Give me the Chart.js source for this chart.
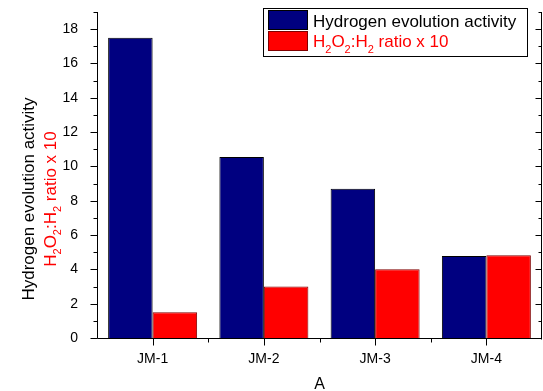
<!DOCTYPE html>
<html>
<head>
<meta charset="utf-8">
<script src="https://cdn.jsdelivr.net/npm/chart.js@4/dist/chart.umd.min.js"></script>
<style>
  html, body { margin: 0; padding: 0; background: #fff; }
  #wrap { width: 543px; height: 391px; }
</style>
</head>
<body>
<div id="wrap"><canvas id="c" width="543" height="391"></canvas></div>
<script>
// Samples and measured values
const categories = ['JM-1', 'JM-2', 'JM-3', 'JM-4'];
const hydrogenActivity = [17.5, 10.55, 8.7, 4.78];
const peroxideRatioX10 = [1.5, 3.0, 4.0, 4.82];

// Text pieces (sub: true marks a subscript)
const activityLabel = [{ t: 'Hydrogen evolution activity' }];
const ratioLabel = [
  { t: 'H' }, { t: '2', sub: true }, { t: 'O' }, { t: '2', sub: true },
  { t: ':H' }, { t: '2', sub: true }, { t: ' ratio x 10' }
];
const xTitle = 'A';

const FONT = '"Liberation Sans", Arial, sans-serif';

function segWidth(ctx, segs, size, subSize) {
  let w = 0;
  for (const s of segs) {
    ctx.font = (s.sub ? subSize : size) + 'px ' + FONT;
    w += ctx.measureText(s.t).width;
  }
  return w;
}
function drawSegs(ctx, segs, x, y, size, subSize, subShift, color) {
  ctx.fillStyle = color;
  ctx.textBaseline = 'alphabetic';
  ctx.textAlign = 'left';
  for (const s of segs) {
    ctx.font = (s.sub ? subSize : size) + 'px ' + FONT;
    ctx.fillText(s.t, x, s.sub ? y + subShift : y);
    x += ctx.measureText(s.t).width;
  }
}

const decorations = {
  id: 'decorations',
  afterDraw(chart) {
    const { ctx, chartArea: a, scales: { x, y } } = chart;
    ctx.save();
    ctx.strokeStyle = '#000';
    ctx.lineWidth = 1;

    // axis lines: left, bottom, right
    const L = a.left + 0.5, R = a.right - 0.5, B = a.bottom + 0.5, T = a.top;
    ctx.beginPath();
    ctx.moveTo(L, T); ctx.lineTo(L, B);
    ctx.moveTo(L, B); ctx.lineTo(R, B);
    ctx.moveTo(R, T); ctx.lineTo(R, B + 1);
    ctx.stroke();

    // y ticks (major every 2, minor every 1)
    ctx.beginPath();
    for (let v = y.min; v <= y.max; v += 1) {
      const py = Math.round(y.getPixelForValue(v)) + 0.5;
      const major = v % 2 === 0;
      ctx.moveTo(L - (major ? 7 : 4), py); ctx.lineTo(L, py);
      ctx.moveTo(R, py); ctx.lineTo(R - (major ? 6 : 3), py);
    }
    // x ticks: major at categories, minor between them
    for (let i = 0; i < categories.length; i++) {
      const px = Math.round(x.getPixelForValue(i)) + 0.5;
      ctx.moveTo(px, B); ctx.lineTo(px, B + 7);
      if (i < categories.length - 1) {
        const mx = Math.round((x.getPixelForValue(i) + x.getPixelForValue(i + 1)) / 2) + 0.5;
        ctx.moveTo(mx, B); ctx.lineTo(mx, B + 4);
      }
    }
    ctx.stroke();

    // y-axis title, two coloured lines
    const cy = 199;
    ctx.save();
    ctx.translate(33.5, cy);
    ctx.rotate(-Math.PI / 2);
    let w = segWidth(ctx, activityLabel, 17, 11);
    drawSegs(ctx, activityLabel, -w / 2, 0, 17, 11, 5, '#000');
    ctx.restore();
    ctx.save();
    ctx.translate(56, cy);
    ctx.rotate(-Math.PI / 2);
    w = segWidth(ctx, ratioLabel, 17, 11);
    drawSegs(ctx, ratioLabel, -w / 2, 0, 17, 11, 5, '#ff0000');
    ctx.restore();

    // legend
    const ds = chart.data.datasets;
    ctx.strokeStyle = '#000';
    ctx.strokeRect(263.5, 8.5, 264, 48);
    const rows = [
      { segs: activityLabel, color: '#000', ds: ds[0], top: 10, base: 26.5 },
      { segs: ratioLabel, color: '#ff0000', ds: ds[1], top: 31, base: 46.5 }
    ];
    for (const r of rows) {
      ctx.fillStyle = r.ds.backgroundColor;
      ctx.fillRect(268, r.top, 40, 20);
      ctx.strokeStyle = r.ds.borderColor;
      ctx.strokeRect(268.5, r.top + 0.5, 39, 19);
      drawSegs(ctx, r.segs, 313, r.base, 17, 11, 6, r.color);
    }
    ctx.restore();
  }
};

new Chart(document.getElementById('c'), {
  type: 'bar',
  data: {
    labels: categories,
    datasets: [
      {
        label: 'Hydrogen evolution activity',
        data: hydrogenActivity,
        backgroundColor: '#000080',
        borderColor: '#000000',
        borderWidth: 1,
        categoryPercentage: 0.8,
        barPercentage: 1.0
      },
      {
        label: 'H2O2:H2 ratio x 10',
        data: peroxideRatioX10,
        backgroundColor: '#ff0000',
        borderColor: '#800000',
        borderWidth: 1,
        categoryPercentage: 0.8,
        barPercentage: 1.0
      }
    ]
  },
  options: {
    responsive: false,
    animation: false,
    devicePixelRatio: 1,
    layout: { padding: { top: 12, right: 1, bottom: 0, left: 0 } },
    plugins: { legend: { display: false }, tooltip: { enabled: false } },
    scales: {
      x: {
        offset: true,
        grid: { display: false },
        border: { display: false },
        ticks: { color: '#000', font: { family: FONT, size: 14 }, padding: 5, maxRotation: 0 },
        title: { display: true, text: xTitle, color: '#000', font: { family: FONT, size: 16, lineHeight: 0.8 }, padding: 0 },
        afterFit(s) { s.height = 53; }
      },
      y: {
        min: 0,
        max: 19,
        grid: { display: false },
        border: { display: false },
        ticks: {
          stepSize: 1,
          autoSkip: false,
          color: '#000',
          font: { family: FONT, size: 14 },
          padding: 11,
          callback: v => (v % 2 === 0 ? String(v) : '')
        },
        afterFit(s) { s.width = 97; s.paddingTop = 0; s.paddingBottom = 0; }
      }
    }
  },
  plugins: [decorations]
});
</script>
</body>
</html>
